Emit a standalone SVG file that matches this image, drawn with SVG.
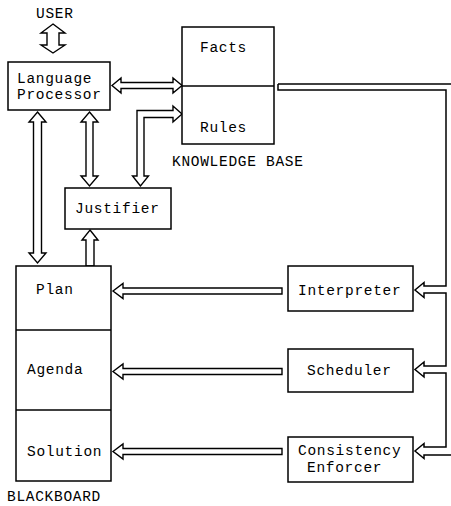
<svg xmlns="http://www.w3.org/2000/svg" width="451" height="506" viewBox="0 0 451 506">
<style>
.box{fill:#fff;stroke:#000;stroke-width:1.5}
.ln{fill:none;stroke:#000;stroke-width:1.5}
.ar{fill:#fff;stroke:#000;stroke-width:1.4;stroke-linejoin:miter}
text{font-family:"Liberation Mono","DejaVu Sans Mono",monospace;font-size:14.5px;letter-spacing:0.7px;fill:#000}
</style>
<rect width="451" height="506" fill="#fff"/>
<g id="connectors">
<path class="ar" d="M53,24 L65,33 L59,33 L59,45 L65,45 L53,53 L41,45 L47,45 L47,33 L41,33 Z"/>
<path class="ar" d="M112,85.5 L121,78 L121,82.5 L173,82.5 L173,78 L182,85.5 L173,93 L173,88.5 L121,88.5 L121,93 Z"/>
<path class="ar" d="M140.5,186 L132.5,176 L137,176 L137,110.5 L173,110.5 L173,106 L182,114 L173,122 L173,117.5 L144,117.5 L144,176 L148.5,176 Z"/>
<path class="ar" d="M89.5,112 L98,122 L93,122 L93,176 L98,176 L89.5,186 L81,176 L86,176 L86,122 L81,122 Z"/>
<path class="ar" d="M37.5,112 L46,122 L41.5,122 L41.5,253 L46,253 L37.5,263 L29,253 L33.5,253 L33.5,122 L29,122 Z"/>
<path class="ar" d="M90,230 L98,240 L94,240 L94,266 L86,266 L86,240 L82,240 Z"/>
<path class="ar" d="M113,291 L123,283.5 L123,288 L282,288 L282,294 L123,294 L123,298.5 Z"/>
<path class="ar" d="M113,371.5 L123,364 L123,368.5 L282,368.5 L282,374.5 L123,374.5 L123,379 Z"/>
<path class="ar" d="M113,451.5 L123,444 L123,448.5 L282,448.5 L282,454.5 L123,454.5 L123,459 Z"/>
<path class="ln" d="M278,84 L452,84"/>
<path class="ln" d="M278,84 L278,90 L446,90 L446,286 L424,286 L424,282.5 L415,290 L424,297.5 L424,293 L446,293 L446,366 L424,366 L424,362 L415,369.5 L424,377 L424,373 L446,373 L446,447 L424,447 L424,443.5 L415,451 L424,458.5 L424,455 L452,455"/>
</g>
<g id="user"><text x="36" y="18">USER</text></g>
<g id="language-processor">
<rect class="box" x="8" y="62" width="102" height="48"/>
<text x="17" y="83">Language</text>
<text x="17" y="99">Processor</text>
</g>
<g id="knowledge-base">
<rect class="box" x="182" y="27" width="92" height="117"/>
<line class="ln" x1="182" y1="86" x2="274" y2="86"/>
<text x="200" y="52">Facts</text>
<text x="200" y="132">Rules</text>
<text x="172" y="166">KNOWLEDGE BASE</text>
</g>
<g id="justifier">
<rect class="box" x="65" y="188" width="106" height="41"/>
<text x="75" y="213">Justifier</text>
</g>
<g id="blackboard">
<rect class="box" x="16" y="266" width="95" height="215"/>
<line class="ln" x1="16" y1="330" x2="111" y2="330"/>
<line class="ln" x1="16" y1="410" x2="111" y2="410"/>
<text x="36" y="294">Plan</text>
<text x="27" y="374">Agenda</text>
<text x="27" y="456">Solution</text>
<text x="7" y="501">BLACKBOARD</text>
</g>
<g id="interpreter">
<rect class="box" x="288" y="266" width="125" height="45"/>
<text x="298" y="295">Interpreter</text>
</g>
<g id="scheduler">
<rect class="box" x="288" y="349" width="125" height="43"/>
<text x="307" y="375">Scheduler</text>
</g>
<g id="consistency-enforcer">
<rect class="box" x="288" y="437" width="125" height="45"/>
<text x="298" y="455">Consistency</text>
<text x="307" y="472">Enforcer</text>
</g>
</svg>
